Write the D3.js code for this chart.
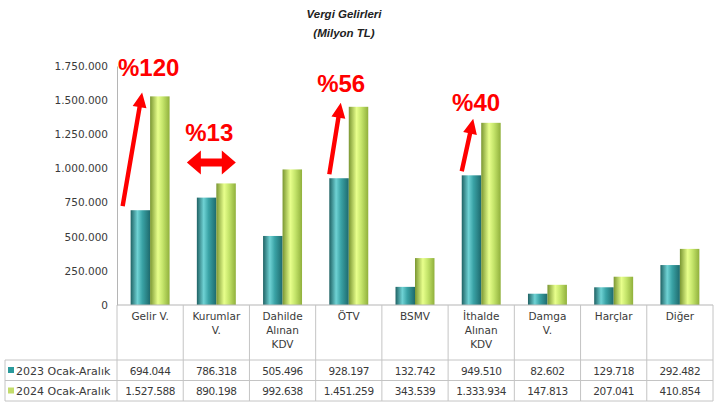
<!DOCTYPE html>
<html>
<head>
<meta charset="utf-8">
<script src="https://cdn.jsdelivr.net/npm/d3@7"></script>
<style>
  body { margin: 0; background: #fff; }
  svg { display: block; font-family: "DejaVu Sans", sans-serif; }
</style>
</head>
<body>
<div id="chart"></div>
<script>
// Data (million TL)
const categories = ["Gelir V.", "Kurumlar V.", "Dahilde Alınan KDV", "ÖTV", "BSMV", "İthalde Alınan KDV", "Damga V.", "Harçlar", "Diğer"];
const categoryLines = [["Gelir V."], ["Kurumlar", "V."], ["Dahilde", "Alınan", "KDV"], ["ÖTV"], ["BSMV"], ["İthalde", "Alınan", "KDV"], ["Damga", "V."], ["Harçlar"], ["Diğer"]];
const seriesNames = ["2023 Ocak-Aralık", "2024 Ocak-Aralık"];
const values2023 = [694044, 786318, 505496, 928197, 132742, 949510, 82602, 129718, 292482];
const values2024 = [1527588, 890198, 992638, 1451259, 343539, 1333934, 147813, 207041, 410854];
const yTicks = [0, 250000, 500000, 750000, 1000000, 1250000, 1500000, 1750000];
const changeLabels = [
  { cat: "Gelir V.", text: "%120", kind: "up" },
  { cat: "Kurumlar V.", text: "%13", kind: "both" },
  { cat: "ÖTV", text: "%56", kind: "up" },
  { cat: "İthalde Alınan KDV", text: "%40", kind: "up" }
];

const W = 721, H = 412;
const margin = { left: 117, right: 8, top: 66, bottom: 107 };
const plotRight = W - margin.right;
const baseY = H - margin.bottom;

const fmt = d3.formatLocale({ decimal: ",", thousands: ".", grouping: [3], currency: ["", ""] }).format(",d");

const svg = d3.select("#chart").append("svg").attr("width", W).attr("height", H);

// bar gradients (cylinder look)
const defs = svg.append("defs");
const grads = [
  { id: "g2023", stops: [["0%", "#1f6264"], ["35%", "#6fd2d4"], ["60%", "#3aa3a6"], ["100%", "#1e6a6d"]] },
  { id: "g2024", stops: [["0%", "#7a9632"], ["40%", "#e8ff8c"], ["65%", "#c4e46a"], ["100%", "#90b03c"]] }
];
grads.forEach(g => {
  const lg = defs.append("linearGradient").attr("id", g.id).attr("x1", "0%").attr("x2", "100%").attr("y1", "0%").attr("y2", "0%");
  g.stops.forEach(s => lg.append("stop").attr("offset", s[0]).attr("stop-color", s[1]));
});
const swatch = ["#2a9a9c", "#c3dc6a"];

// scales
const x = d3.scaleBand().domain(categories).range([margin.left, plotRight]).padding(0);
const x1 = d3.scaleBand().domain(seriesNames).range([0, x.bandwidth()]).paddingInner(0).paddingOuter(0.7);
const y = d3.scaleLinear().domain([0, 1750000]).range([baseY, margin.top]);

// title
["Vergi Gelirleri", "(Milyon TL)"].forEach((t, k) => {
  svg.append("text").attr("x", 344).attr("y", 18 + k * 19).attr("text-anchor", "middle")
    .attr("font-family", "'Liberation Sans', Arial, sans-serif").attr("font-weight", "bold").attr("font-style", "italic")
    .attr("font-size", 11.5).attr("fill", "#222").text(t);
});

// y axis
const yAxis = svg.append("g").attr("transform", `translate(${margin.left},0)`)
  .call(d3.axisLeft(y).tickValues(yTicks).tickFormat(fmt).tickSize(0).tickPadding(9));
yAxis.select(".domain").attr("stroke", "#b5b5b5");
yAxis.selectAll("text").attr("font-size", 10.5).attr("fill", "#3a3a3a").attr("font-family", "'DejaVu Sans', sans-serif");

// bars
const rows = categories.map((c, i) => ({ cat: c, vals: [values2023[i], values2024[i]] }));
svg.append("g").selectAll("g").data(rows).join("g")
  .attr("transform", d => `translate(${x(d.cat)},0)`)
  .selectAll("rect").data(d => d.vals.map((v, j) => ({ s: seriesNames[j], v, j })))
  .join("rect")
  .attr("x", d => x1(d.s))
  .attr("width", x1.bandwidth())
  .attr("y", d => y(d.v))
  .attr("height", d => baseY - y(d.v))
  .attr("fill", d => d.j === 0 ? "url(#g2023)" : "url(#g2024)");

// x axis line
svg.append("line").attr("x1", margin.left).attr("x2", plotRight).attr("y1", baseY).attr("y2", baseY)
  .attr("stroke", "#b5b5b5").attr("stroke-width", 1.2);

// data table
const rowTop = 360, rowH = 20.5, tableLeft = 5;
const grid = svg.append("g").attr("stroke", "#c4c4c4").attr("stroke-width", 1);
const bounds = categories.map(c => x(c)).concat([plotRight]);
grid.selectAll("line.v").data(bounds).join("line").attr("class", "v")
  .attr("x1", d => d).attr("x2", d => d).attr("y1", baseY).attr("y2", rowTop + 2 * rowH);
[0, 1, 2].forEach(k => {
  grid.append("line").attr("x1", tableLeft).attr("x2", plotRight)
    .attr("y1", rowTop + k * rowH).attr("y2", rowTop + k * rowH);
});
grid.append("line").attr("x1", tableLeft).attr("x2", tableLeft).attr("y1", rowTop).attr("y2", rowTop + 2 * rowH);

const cellText = svg.append("g").attr("font-size", 10.5).attr("fill", "#3a3a3a").attr("text-anchor", "middle");
categories.forEach((c, i) => {
  categoryLines[i].forEach((ln, k) => {
    cellText.append("text").attr("x", x(c) + x.bandwidth() / 2).attr("y", baseY + 15 + k * 14).text(ln);
  });
  [values2023[i], values2024[i]].forEach((v, j) => {
    cellText.append("text").attr("x", x(c) + x.bandwidth() / 2).attr("y", rowTop + j * rowH + 14.5)
      .style("letter-spacing", "-0.4px").text(fmt(v));
  });
});
seriesNames.forEach((s, j) => {
  svg.append("rect").attr("x", 8).attr("y", rowTop + j * rowH + 7).attr("width", 6).attr("height", 6).attr("fill", swatch[j]);
  svg.append("text").attr("x", 16).attr("y", rowTop + j * rowH + 14.5).attr("font-size", 11).attr("fill", "#3a3a3a")
    .text(s);
});

// red change annotations
const red = "#ff0000";
const ann = svg.append("g");
function upArrow(x0, y0, x2, y2) {
  const dx = x2 - x0, dy = y2 - y0, len = Math.hypot(dx, dy);
  const ux = dx / len, uy = dy / len, px = -uy, py = ux;
  const hl = 15, hw = 7, sw = 2.2;
  const bx = x2 - ux * hl, by = y2 - uy * hl;
  const pts = [
    [x0 + px * sw, y0 + py * sw], [bx + px * sw, by + py * sw], [bx + px * hw, by + py * hw], [x2, y2],
    [bx - px * hw, by - py * hw], [bx - px * sw, by - py * sw], [x0 - px * sw, y0 - py * sw]
  ];
  ann.append("path").attr("d", d3.line()(pts) + "Z").attr("fill", red);
}
function bothArrow(xa, xb, yc) {
  const hl = 14, hh = 12, sw = 4;
  const pts = [[xa, yc], [xa + hl, yc - hh], [xa + hl, yc - sw], [xb - hl, yc - sw], [xb - hl, yc - hh], [xb, yc],
    [xb - hl, yc + hh], [xb - hl, yc + sw], [xa + hl, yc + sw], [xa + hl, yc + hh]];
  ann.append("path").attr("d", d3.line()(pts) + "Z").attr("fill", red);
}
// label lift above the 2024 bar and left inset, per annotation
const labelLift = { "Gelir V.": 20, "ÖTV": 15, "İthalde Alınan KDV": 12 };
const labelInset = { "Gelir V.": 1, "ÖTV": 1.5, "İthalde Alınan KDV": 4 };
changeLabels.forEach(a => {
  const i = categories.indexOf(a.cat);
  const bx0 = x(a.cat) + x1(seriesNames[0]);
  const bx1 = x(a.cat) + x1(seriesNames[1]);
  const y0 = y(values2023[i]), y1v = y(values2024[i]);
  const label = ann.append("text")
    .attr("font-family", "'Liberation Sans', Arial, sans-serif").attr("font-weight", "bold")
    .attr("font-size", 24).attr("fill", red).text(a.text);
  if (a.kind === "up") {
    const tailX = i === 0 ? bx0 - 8 : bx0;
    upArrow(tailX, y0 - 4, bx1 - 8, y1v - 4);
    label.attr("x", x(a.cat) + labelInset[a.cat]).attr("y", y1v - labelLift[a.cat]);
  } else {
    bothArrow(bx0 - 10, bx1 + x1.bandwidth(), y1v - 21);
    label.attr("x", x(a.cat) + 2).attr("y", y1v - 42);
  }
});
</script>
</body>
</html>
